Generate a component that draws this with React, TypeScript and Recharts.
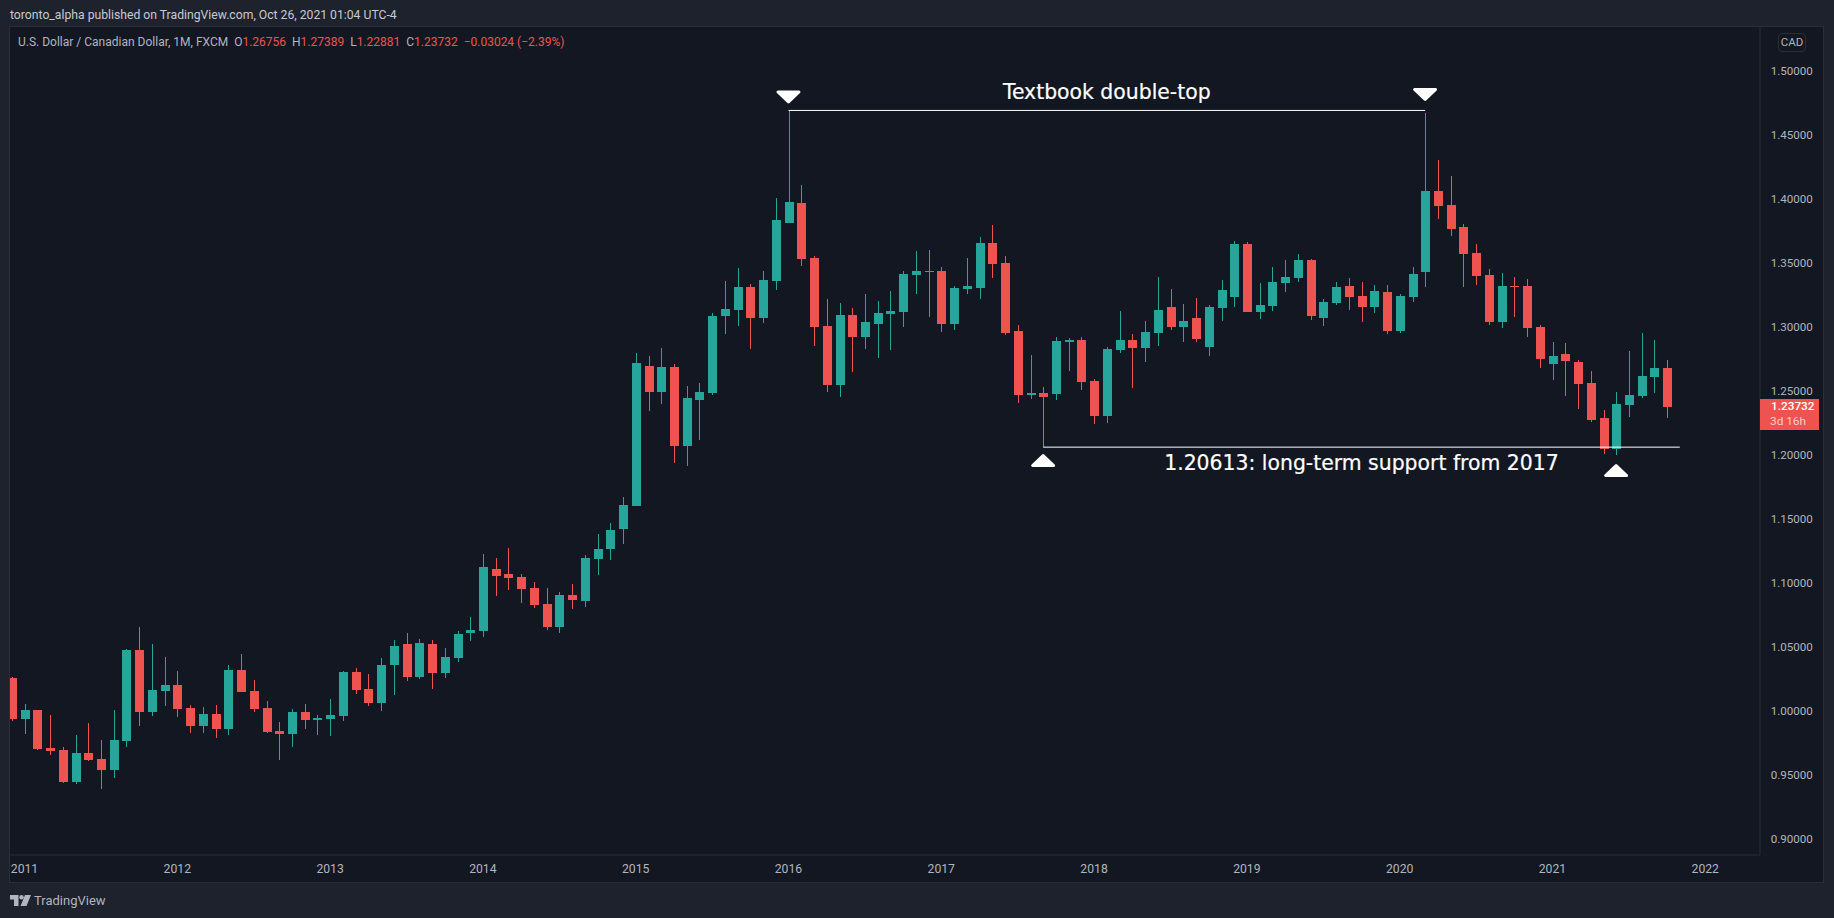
import { Bar, ComposedChart, ReferenceDot, ReferenceLine, XAxis, YAxis } from 'recharts'

const UP = '#26a69a'
const DOWN = '#ef5350'
const PANE = '#131722'
const CHROME = '#1e222d'
const BORDER = '#2a2e39'
const TEXT = '#b2b5be'
const FONT = 'Roboto, sans-serif'

// USD/CAD monthly candles, Dec 2010 to Oct 2021
const opens = [
  1.02592, 0.99391, 1.00094, 0.97127, 0.96971, 0.94473, 0.96737, 0.96269, 0.9541, 0.97674,
  1.04778, 0.99938, 1.01577, 1.02045, 1.0025, 0.98845, 0.99781, 0.98611, 1.03216, 1.01577,
  1.0025, 0.98454, 0.9822, 0.99938, 0.99313, 0.99391, 0.99625, 1.0306, 1.01733, 1.0064,
  1.03607, 1.05246, 1.0267, 1.05246, 1.02982, 1.04153, 1.06105, 1.06261, 1.11101, 1.10711,
  1.10477, 1.09618, 1.08369, 1.06573, 1.09071, 1.08603, 1.11882, 1.12662, 1.14224, 1.16019,
  1.26948, 1.24918, 1.2687, 1.20703, 1.24294, 1.2484, 1.30851, 1.31319, 1.33115, 1.30695,
  1.33583, 1.38111, 1.39672, 1.35378, 1.3007, 1.25464, 1.30929, 1.29211, 1.30226, 1.31007,
  1.31163, 1.34051, 1.34364, 1.34364, 1.30226, 1.32958, 1.33037, 1.36549, 1.34988, 1.2968,
  1.24684, 1.2484, 1.24762, 1.28821, 1.28977, 1.25777, 1.23045, 1.28197, 1.28978, 1.28353,
  1.29524, 1.31554, 1.29993, 1.30695, 1.28431, 1.31476, 1.32335, 1.36472, 1.31164, 1.31632,
  1.33427, 1.33818, 1.35223, 1.30695, 1.31866, 1.33193, 1.32413, 1.31554, 1.32725, 1.2968,
  1.32335, 1.34286, 1.40609, 1.39516, 1.37798, 1.35769, 1.34051, 1.30382, 1.33193, 1.33193,
  1.29992, 1.27104, 1.27884, 1.2726, 1.25621, 1.22888, 1.20468, 1.23903, 1.24606, 1.26089,
  1.26756,
]
const highs = [
  1.0267, 1.00563, 1.00094, 0.99703, 0.97205, 0.98142, 0.99079, 0.97752, 1.00094, 1.04856,
  1.06573, 1.05246, 1.04231, 1.03138, 1.00484, 1.00328, 1.00484, 1.03607, 1.04465, 1.02436,
  1.00796, 0.99157, 1.00172, 1.00563, 0.99703, 1.00952, 1.03138, 1.03372, 1.02904, 1.04153,
  1.05558, 1.06105, 1.05636, 1.05558, 1.04934, 1.06261, 1.07354, 1.12272, 1.1196, 1.1274,
  1.10711, 1.10086, 1.09618, 1.09306, 1.0993, 1.12194, 1.13833, 1.14692, 1.16722, 1.27963,
  1.27728, 1.28353, 1.27104, 1.25387, 1.25621, 1.31085, 1.33583, 1.34598, 1.33349, 1.34364,
  1.40062, 1.46896, 1.41077, 1.35535, 1.32178, 1.31866, 1.31475, 1.32568, 1.32022, 1.32802,
  1.34364, 1.35925, 1.36003, 1.34676, 1.33193, 1.35378, 1.37018, 1.37954, 1.35535, 1.30148,
  1.27806, 1.25308, 1.29211, 1.29133, 1.29211, 1.25933, 1.28431, 1.31242, 1.29446, 1.30461,
  1.33896, 1.32959, 1.31788, 1.32256, 1.3171, 1.33662, 1.36706, 1.36628, 1.33427, 1.34676,
  1.35223, 1.35691, 1.35301, 1.32178, 1.33505, 1.33818, 1.33505, 1.33271, 1.33271, 1.32569,
  1.34676, 1.46698, 1.43029, 1.4178, 1.38033, 1.36471, 1.3452, 1.34207, 1.33895, 1.33739,
  1.30148, 1.28821, 1.28743, 1.27416, 1.26557, 1.23513, 1.24918, 1.28119, 1.29524, 1.28977,
  1.27389,
]
const lows = [
  0.99235, 0.9822, 0.96971, 0.96581, 0.94395, 0.94317, 0.96113, 0.93927, 0.94785, 0.97205,
  0.98845, 0.99625, 1.00406, 0.99547, 0.98298, 0.98298, 0.97908, 0.98142, 1.01499, 0.99938,
  0.98298, 0.96191, 0.97205, 0.98611, 0.98142, 0.98064, 0.99235, 1.01343, 1.00406, 1.00016,
  1.01265, 1.02358, 1.02514, 1.01733, 1.02592, 1.03841, 1.05481, 1.05793, 1.08993, 1.09462,
  1.08447, 1.08057, 1.06339, 1.06105, 1.07979, 1.08135, 1.10633, 1.11804, 1.13053, 1.16019,
  1.23435, 1.23981, 1.19376, 1.19142, 1.21171, 1.24684, 1.29446, 1.3007, 1.28275, 1.30304,
  1.3288, 1.38111, 1.34754, 1.28509, 1.24918, 1.24528, 1.26479, 1.28275, 1.27572, 1.28197,
  1.29992, 1.32568, 1.30773, 1.29602, 1.29758, 1.32568, 1.32178, 1.33817, 1.29368, 1.24059,
  1.24372, 1.20613, 1.24293, 1.26557, 1.25074, 1.2242, 1.22499, 1.27963, 1.25231, 1.2726,
  1.28509, 1.29758, 1.28822, 1.28822, 1.27729, 1.30461, 1.31554, 1.31164, 1.30617, 1.31242,
  1.32725, 1.33505, 1.30539, 1.30071, 1.3171, 1.3132, 1.30383, 1.31086, 1.29446, 1.29524,
  1.31944, 1.33115, 1.38423, 1.37096, 1.33115, 1.33271, 1.30148, 1.29914, 1.30773, 1.29211,
  1.26791, 1.25855, 1.24606, 1.23591, 1.22576, 1.20078, 1.2, 1.22966, 1.2445, 1.2484,
  1.22881,
]
const closes = [
  0.99391, 1.00094, 0.97049, 0.96893, 0.94473, 0.96737, 0.96191, 0.9541, 0.97752, 1.04778,
  0.99938, 1.01655, 1.02045, 1.00172, 0.98845, 0.99781, 0.98611, 1.03216, 1.01499, 1.00172,
  0.98376, 0.9822, 0.99938, 0.99313, 0.99469, 0.99703, 1.0306, 1.01655, 1.0064, 1.03607,
  1.0509, 1.0267, 1.05324, 1.02982, 1.04231, 1.06027, 1.06339, 1.11257, 1.10555, 1.10398,
  1.0954, 1.08291, 1.06573, 1.09071, 1.08681, 1.1196, 1.12662, 1.14146, 1.16097, 1.27182,
  1.24918, 1.2687, 1.20703, 1.2445, 1.24918, 1.30851, 1.31397, 1.33114, 1.30695, 1.33661,
  1.38345, 1.3975, 1.353, 1.29992, 1.25464, 1.30929, 1.29211, 1.30382, 1.31085, 1.31241,
  1.34129, 1.34364, 1.34286, 1.30226, 1.33037, 1.33193, 1.36549, 1.3491, 1.29524, 1.24684,
  1.2484, 1.24528, 1.28899, 1.28977, 1.25699, 1.23044, 1.28275, 1.28978, 1.28353, 1.29602,
  1.3132, 1.29993, 1.30461, 1.29056, 1.31554, 1.32881, 1.36472, 1.31164, 1.3171, 1.33505,
  1.33896, 1.35223, 1.30851, 1.31944, 1.33115, 1.32335, 1.31554, 1.32803, 1.2968, 1.32413,
  1.3413, 1.40609, 1.39438, 1.37642, 1.35691, 1.33973, 1.30382, 1.33193, 1.33115, 1.29914,
  1.27494, 1.27728, 1.27338, 1.25542, 1.22732, 1.20468, 1.23981, 1.24684, 1.26167, 1.26791,
  1.23732,
]

const priceTicks = [0.9, 0.95, 1.0, 1.05, 1.1, 1.15, 1.2, 1.25, 1.3, 1.35, 1.4, 1.45, 1.5]
const yearLabels = ['2011', '2012', '2013', '2014', '2015', '2016', '2017', '2018', '2019', '2020', '2021', '2022']
// bar index of each January
const yearTicks = yearLabels.map((_, i) => 1 + i * 12)

const rows = opens.map((open, i) => ({
  i,
  open,
  close: closes[i],
  high: highs[i],
  low: lows[i],
  range: [lows[i], highs[i]],
}))

function Candle(props: any) {
  const { x, y, width, height, payload } = props
  const { open, close, high, low } = payload
  const k = height / (high - low)
  const cx = Math.round(x + width / 2)
  const top = Math.round(y + (high - Math.max(open, close)) * k)
  const bottom = Math.round(y + (high - Math.min(open, close)) * k)
  const color = close >= open ? UP : DOWN
  return (
    <g shapeRendering="crispEdges">
      <rect x={cx} y={Math.round(y)} width={1} height={Math.max(1, Math.round(height))} fill={color} />
      <rect x={cx - 4} y={top} width={9} height={Math.max(1, bottom - top)} fill={color} />
    </g>
  )
}

function Marker({ cx, cy, down }: any) {
  const dir = down ? 1 : -1
  const d = `M${cx - 10.5} ${cy - dir * 5} L${cx + 10.5} ${cy - dir * 5} L${cx} ${cy + dir * 5} Z`
  return <path d={d} fill="#fff" stroke="#fff" strokeWidth={3} strokeLinejoin="round" />
}

function Note({ cx, cy, text }: any) {
  return (
    <text
      x={cx}
      y={cy}
      textAnchor="middle"
      dominantBaseline="central"
      fill="#fff"
      stroke="#fff"
      strokeWidth={0.2}
      fontSize={20.4}
      fontFamily="'DejaVu Sans'"
    >
      {text}
    </text>
  )
}

function Logo() {
  return (
    <svg width={21} height={12} viewBox="0 0 21 12" style={{ position: 'absolute', left: 10, top: 895 }}>
      <path d="M0 0 H8.5 V11 H4 V4.5 H0 Z" fill={TEXT} />
      <circle cx={11.5} cy={2.2} r={2.2} fill={TEXT} />
      <path d="M15 0 H21 L16.5 11 H10.5 Z" fill={TEXT} />
    </svg>
  )
}

const abs = (left: number, top: number) => ({ position: 'absolute' as const, left, top, whiteSpace: 'pre' as const })

export default function App() {
  return (
    <div style={{ position: 'relative', width: 1834, height: 918, background: CHROME, fontFamily: FONT, overflow: 'hidden' }}>
      <style>{'body{margin:0}'}</style>
      <div style={{ ...abs(9, 26), width: 1815, height: 857, background: PANE, border: `1px solid ${BORDER}`, boxSizing: 'border-box' }} />
      <ComposedChart
        width={1834}
        height={918}
        data={rows}
        margin={{ top: 27, right: 10, bottom: 35, left: 10 }}
        style={{ position: 'absolute', left: 0, top: 0 }}
      >
        <XAxis
          type="number"
          dataKey="i"
          domain={[-0.138, 137.3]}
          allowDataOverflow
          ticks={yearTicks}
          interval={0}
          tickFormatter={(v: number) => yearLabels[yearTicks.indexOf(v)]}
          tick={{ fill: TEXT, fontSize: 12.2, fontFamily: FONT }}
          tickLine={false}
          tickSize={0}
          tickMargin={9}
          axisLine={{ stroke: BORDER }}
          height={28}
        />
        <YAxis
          type="number"
          orientation="right"
          domain={[0.88775, 1.5341]}
          allowDataOverflow
          ticks={priceTicks}
          interval={0}
          tickFormatter={(v: number) => v.toFixed(5)}
          tick={{ fill: TEXT, fontSize: 11.6, fontFamily: FONT }}
          tickLine={false}
          tickSize={0}
          tickMargin={10.7}
          axisLine={{ stroke: BORDER }}
          width={64}
        />
        <Bar dataKey="range" barSize={9} shape={Candle} isAnimationActive={false} />
        <ReferenceLine
          segment={[{ x: 61, y: 1.46896 }, { x: 111, y: 1.46896 }]}
          stroke="#fff"
          strokeWidth={1}
        />
        <ReferenceLine
          segment={[{ x: 81, y: 1.20613 }, { x: 131, y: 1.20613 }]}
          stroke="#fff"
          strokeWidth={1}
        />
        <ReferenceDot x={61} y={1.47947} r={0} shape={(p: any) => <Marker {...p} down />} />
        <ReferenceDot x={111} y={1.48142} r={0} shape={(p: any) => <Marker {...p} down />} />
        <ReferenceDot x={81} y={1.19571} r={0} shape={(p: any) => <Marker {...p} />} />
        <ReferenceDot x={126} y={1.18791} r={0} shape={(p: any) => <Marker {...p} />} />
        <ReferenceDot x={86} y={1.48298} r={0} shape={(p: any) => <Note {...p} text="Textbook double-top" />} />
        <ReferenceDot
          x={106}
          y={1.19375}
          r={0}
          shape={(p: any) => <Note {...p} text="1.20613: long-term support from 2017" />}
        />
      </ComposedChart>

      <div style={{ ...abs(10, 8), color: '#c8cad0', fontSize: 12.2 }}>
        toronto_alpha published on TradingView.com, Oct 26, 2021 01:04 UTC-4
      </div>
      <div style={{ ...abs(18, 35), color: TEXT, fontSize: 12 }}>
        {'U.S. Dollar / Canadian Dollar, 1M, FXCM  O'}
        <span style={{ color: DOWN }}>1.26756</span>
        {'  H'}
        <span style={{ color: DOWN }}>1.27389</span>
        {'  L'}
        <span style={{ color: DOWN }}>1.22881</span>
        {'  C'}
        <span style={{ color: DOWN }}>1.23732</span>
        <span style={{ color: DOWN }}>{'  −0.03024 (−2.39%)'}</span>
      </div>
      <div
        style={{
          ...abs(1778, 33),
          width: 28,
          height: 19,
          boxSizing: 'border-box',
          border: `1px solid ${BORDER}`,
          borderRadius: 4,
          color: TEXT,
          fontSize: 11.5,
          lineHeight: '17px',
          textAlign: 'center',
        }}
      >
        CAD
      </div>
      <div style={{ ...abs(1760, 399), width: 59, height: 31, background: DOWN, fontSize: 11.8, lineHeight: '15px' }}>
        <div style={{ marginLeft: 11, color: '#fff', fontWeight: 500 }}>1.23732</div>
        <div style={{ marginLeft: 10, color: '#fbd0cf' }}>3d 16h</div>
      </div>
      <Logo />
      <div style={{ ...abs(34, 893), color: TEXT, fontSize: 13 }}>TradingView</div>
    </div>
  )
}
